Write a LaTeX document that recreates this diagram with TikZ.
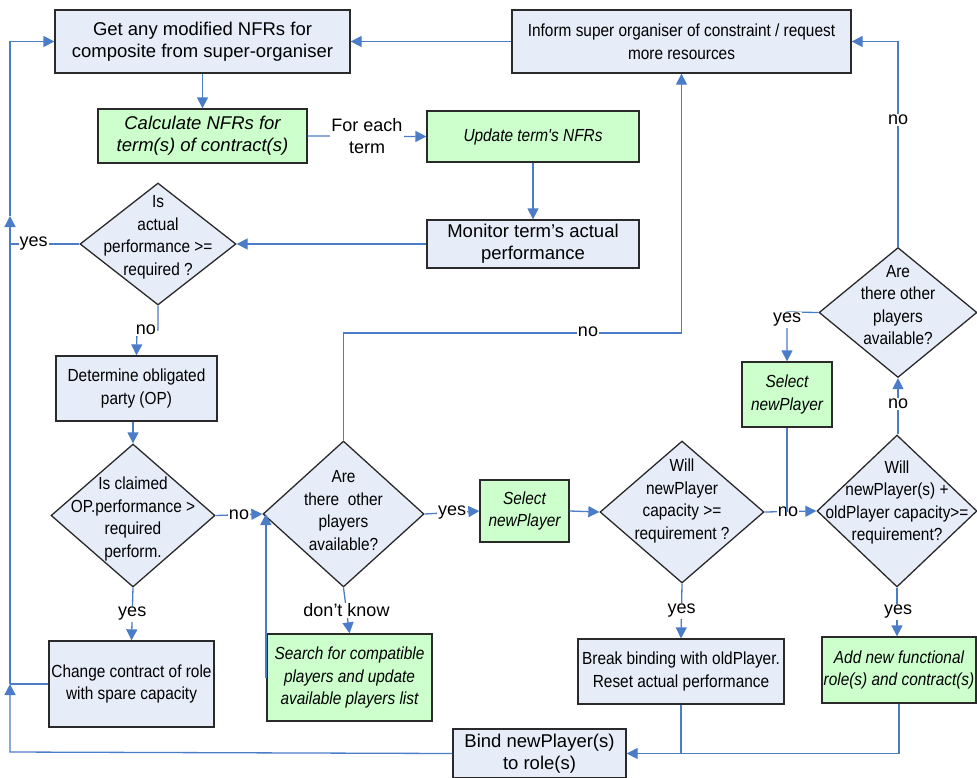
\documentclass[tikz,border=0pt]{standalone}
\usepackage{fontspec}
\setmainfont{Liberation Sans}
\newfontfamily\narrowfont[FakeStretch=0.88]{Liberation Sans}
\usetikzlibrary{arrows.meta,shapes.geometric,calc}

\definecolor{boxblue}{HTML}{E6ECF8}
\definecolor{boxgreen}{HTML}{CCFFCC}
\definecolor{lineblue}{HTML}{4A7CC8}
\definecolor{edgecol}{HTML}{2A2A2A}

\begin{document}
\begin{tikzpicture}[x=1pt,y=-1pt,
 box/.style={draw=edgecol, line width=1.3pt, fill=boxblue, inner sep=0pt, align=center},
 gbox/.style={box, fill=boxgreen},
 dia/.style={diamond, draw=edgecol, line width=1.3pt, fill=boxblue, inner sep=0pt},
 nf/.style={font=\narrowfont\fontsize{17.5}{22.5}\selectfont},
 nfi/.style={font=\narrowfont\itshape\fontsize{17.5}{22.5}\selectfont},
 rf/.style={font=\fontsize{18.5}{22}\selectfont},
 dtxt/.style={align=center, inner sep=0pt, nf},
 conn/.style={draw=lineblue, line width=1.3pt},
 arr/.style={conn, -{Triangle[length=11pt,width=11pt]}},
 lbl/.style={fill=white, inner sep=1pt, align=center, font=\fontsize{18}{22}\selectfont},
]
\useasboundingbox (0,0) rectangle (977,777);

% boxes
\node[box, rf, minimum width=295pt, minimum height=63pt] (A) at (202.5,41.5)
  {Get any modified NFRs for\\composite from super-organiser};
\node[gbox, font=\itshape\fontsize{18.5}{22}\selectfont, minimum width=209pt, minimum height=54pt] (B) at (202.5,136)
  {Calculate NFRs for\\term(s) of contract(s)};
\node[gbox, nfi, minimum width=212pt, minimum height=51pt] (C) at (533,136.5)
  {Update term's NFRs};
\node[box, rf, minimum width=212pt, minimum height=48pt] (D) at (533,244)
  {Monitor term's actual\\performance};
\node[box, nf, minimum width=339pt, minimum height=63pt] (J) at (681.5,41.5)
  {Inform super organiser of constraint / request\\more resources};
\node[box, nf, minimum width=161pt, minimum height=65pt] (F) at (136.5,388.5)
  {Determine obligated\\party (OP)};
\node[box, nf, minimum width=165pt, minimum height=86pt] (I) at (131.5,684)
  {Change contract of role\\with spare capacity};
\node[gbox, nfi, minimum width=89pt, minimum height=62pt] (K) at (524.5,511)
  {Select\\newPlayer};
\node[gbox, nfi, minimum width=165pt, minimum height=87pt] (L) at (349.5,677.5)
  {Search for compatible\\players and update\\available players list};
\node[gbox, nfi, minimum width=90pt, minimum height=65pt] (P) at (787,394.5)
  {Select\\newPlayer};
\node[box, nf, minimum width=206pt, minimum height=65pt] (Q) at (681,671.5)
  {Break binding with oldPlayer.\\Reset actual performance};
\node[gbox, nfi, minimum width=154pt, minimum height=66pt] (R) at (899,670)
  {Add new functional\\role(s) and contract(s)};
\node[box, font=\fontsize{18.5}{22.5}\selectfont, minimum width=173pt, minimum height=49pt] (S) at (539.5,753.5)
  {Bind newPlayer(s)\\to role(s)};

% diamonds
\node[dia, minimum width=156pt, minimum height=122pt] (E) at (158,244) {};
\node[dtxt] (Et) at (158,237.5) {Is\\actual\\performance >=\\required ?};
\node[dia, minimum width=164pt, minimum height=143pt] (G) at (133,515.5) {};
\node[dtxt] (Gt) at (133,519) {Is claimed\\OP.performance >\\required\\perform.};
\node[dia, minimum width=161pt, minimum height=146pt] (H) at (343.5,514) {};
\node[dtxt] (Ht) at (343.5,510.5) {Are\\there~ other\\players\\available?};
\node[dia, minimum width=164pt, minimum height=142pt] (M) at (682,512) {};
\node[dtxt] (Mt) at (682,501) {Will\\newPlayer\\capacity >=\\requirement ?};
\node[dia, minimum width=160pt, minimum height=152pt] (N) at (897,511) {};
\node[dtxt] (Nt) at (897,502.5) {Will\\newPlayer(s) +\\oldPlayer capacity>=\\requirement?};
\node[dia, minimum width=158pt, minimum height=130pt] (O) at (898,312.5) {};
\node[dtxt] (Ot) at (898,305) {Are\\there other\\players\\available?};

% coordinates for the left loop
\coordinate (lbot) at (10,752);
\coordinate (lmid) at (10,684);
\coordinate (lup) at (10,216);

% connectors
\draw[arr] (J.west) -- (A.east);
\draw[arr] (A.south) -- (B.north);
\draw[arr] (B.east) -- (C.west) node[lbl, midway] (fe) {For each\\term};
\draw[arr] (C.south) -- (D.north);
\draw[arr] (D.west) -- (E.east);
\draw[conn] (E.west) -- (E.west -| lup) node[lbl, pos=0.66] (ly) {yes};
\draw[arr] (S.west) -- (lbot) -- (lmid);
\draw[arr] (lmid) -- (lup);
\draw[arr] (lup) |- (A.west);
\draw[conn] (I.west) -- (lmid);

\coordinate (en) at (158,330);
\draw[arr] (E.south) -- (en) -- (137,330) -- (F.north);
\node[lbl] (lno1) at (146,330) {no};
\draw[arr] (G.north |- F.south) -- (G.north);
\draw[arr] (G.east) -- (H.west) node[lbl, midway] (lno2) {no};
\draw[arr] (G.south) -- (I.north) node[lbl, midway] (lyes2) {yes};

\coordinate (hup) at (343.5,333);
\draw[arr] (H.north) -- (hup) -| (J.south);
\node[lbl] (lno3) at (588,332) {no};
\draw[arr] (H.east) -- (K.west) node[lbl, midway] (lyes3) {yes};
\draw[arr] (H.south) -- (L.north) node[lbl, midway] (ldk) {don't know};
\draw[arr] ([xshift=-0.5pt]L.west) -- ([xshift=-0.5pt]L.west |- H.west);

\draw[arr] (K.east) -- (M.west);
\draw[arr] (M.east) -- (N.west);
\node[lbl] (lno4) at (788,512) {no};
\draw[conn] (P.south) -- (P.south |- M.east);
\draw[arr] (M.south) -- (Q.north) node[lbl, midway] (lyes4) {yes};

\draw[arr] (O.south |- N.north) -- (O.south);
\node[lbl] (lno5) at (898,404) {no};
\draw[arr] (O.north) |- (J.east);
\node[lbl] (lno6) at (898,120) {no};
\coordinate (oy) at (787,312);
\draw[arr] (O.west) -- (oy) -- (P.north);
\node[lbl] (lyes5) at (787,320) {yes};

\draw[arr] (N.south) -- (N.south |- R.north);
\node[lbl] (lyes6) at (898,612) {yes};
\draw[arr] (R.south) |- (S.east);
\draw[conn] (Q.south) -- (Q.south |- S.east);
\end{tikzpicture}
\end{document}
